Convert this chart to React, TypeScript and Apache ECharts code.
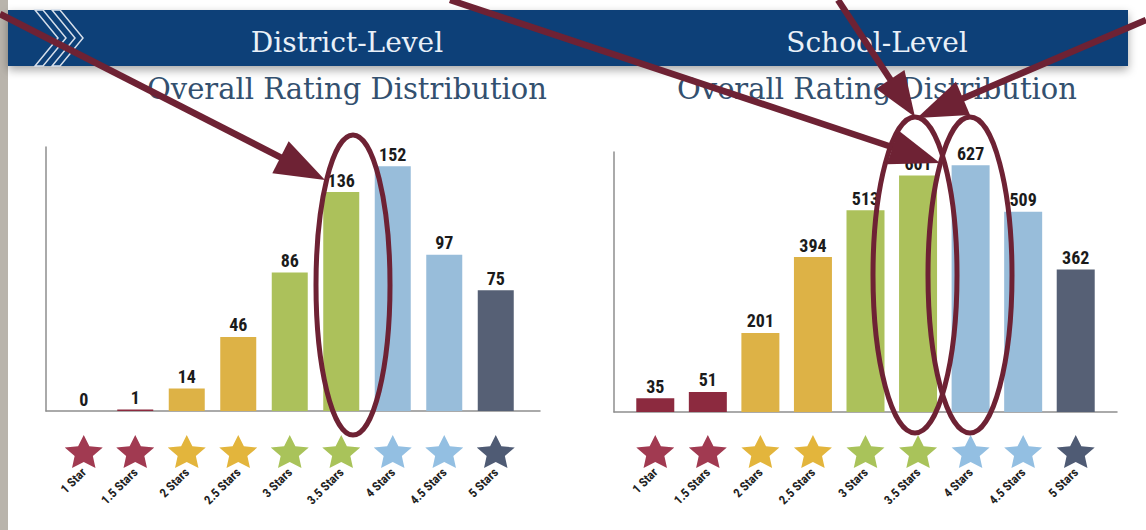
import React, { useEffect, useRef } from "react";
import * as echarts from "echarts";

const categories = ["1 Star", "1.5 Stars", "2 Stars", "2.5 Stars", "3 Stars", "3.5 Stars", "4 Stars", "4.5 Stars", "5 Stars"];
const districtCounts = [0, 1, 14, 46, 86, 136, 152, 97, 75];
const schoolCounts = [35, 51, 201, 394, 513, 601, 627, 509, 362];
const barColors = ["#8C2A3F", "#8C2A3F", "#DDB246", "#DDB246", "#ACC15B", "#ACC15B", "#98BDDA", "#98BDDA", "#566075"];
const starColors = ["#A13A51", "#A13A51", "#E3B53C", "#E3B53C", "#A9C35A", "#A9C35A", "#93BFE2", "#93BFE2", "#4F5B74"];
const panelTitles = ["District-Level", "School-Level"];
const subtitle = "Overall Rating Distribution";

const NARROW = "'Liberation Sans Narrow','Arial Narrow','Roboto Condensed','Liberation Sans',sans-serif";
const SERIF = "'DejaVu Serif',serif";
const STAR = "path://M50,2 L64.1,32.6 L97.6,36.6 L72.8,59.4 L79.4,92.5 L50,76 L20.6,92.5 L27.2,59.4 L2.4,36.6 L35.9,32.6 Z";
const ANNO = "#6E2234";

type Layout = { barLeft: number; barWidth: number; top: number; height: number; frameLeft: number; frameWidth: number; max: number; bw: number };

const layouts: Layout[] = [
  { barLeft: 58, barWidth: 463.5, top: 147, height: 264, frameLeft: 46, frameWidth: 494, max: 164, bw: 36 },
  { barLeft: 629, barWidth: 473, top: 152, height: 260, frameLeft: 614, frameWidth: 503, max: 661, bw: 38 },
];
const panelData = [districtCounts, schoolCounts];

function arrow(x1: number, y1: number, tx: number, ty: number, len: number, half: number) {
  const dx = tx - x1, dy = ty - y1;
  const d = Math.sqrt(dx * dx + dy * dy);
  const ux = dx / d, uy = dy / d;
  const bx = tx - ux * len, by = ty - uy * len;
  const px = -uy, py = ux;
  return [
    { type: "line", z: 100, shape: { x1, y1, x2: bx + ux * 4, y2: by + uy * 4 }, style: { stroke: ANNO, lineWidth: 6.5 } },
    {
      type: "polygon", z: 100,
      shape: { points: [[tx, ty], [bx + px * half, by + py * half], [bx - px * half, by - py * half]] },
      style: { fill: ANNO },
    },
  ];
}

export default function App() {
  const ref = useRef<HTMLDivElement>(null);
  useEffect(() => {
    if (!ref.current) return;
    const chart = echarts.init(ref.current, undefined, { renderer: "svg" });
    const grid: any[] = [];
    const xAxis: any[] = [];
    const yAxis: any[] = [];
    const series: any[] = [];
    const hidden = { show: false };
    layouts.forEach((L, p) => {
      const g = p * 3;
      grid.push({ left: L.barLeft, width: L.barWidth, top: L.top, height: L.height });
      grid.push({ left: L.frameLeft, width: L.frameWidth, top: L.top, height: L.height });
      grid.push({ left: L.barLeft, width: L.barWidth, top: 436, height: 31 });
      xAxis.push({ type: "category", gridIndex: g, data: categories, axisLine: hidden, axisTick: hidden, axisLabel: hidden });
      xAxis.push({
        type: "value", gridIndex: g + 1, min: 0, max: 1,
        axisLine: { show: true, lineStyle: { color: "#8E8E8E", width: 1.5 } },
        axisTick: hidden, axisLabel: hidden, splitLine: hidden,
      });
      xAxis.push({
        type: "category", gridIndex: g + 2, data: categories, axisLine: hidden, axisTick: hidden,
        axisLabel: { show: true, interval: 0, rotate: 45, margin: 3, fontFamily: NARROW, fontWeight: "bold", fontSize: 12.5, color: "#222" },
      });
      yAxis.push({ type: "value", gridIndex: g, min: 0, max: L.max, show: false, splitLine: hidden });
      yAxis.push({
        type: "value", gridIndex: g + 1, min: 0, max: 1,
        axisLine: { show: true, lineStyle: { color: "#8E8E8E", width: 1.5 } },
        axisTick: hidden, axisLabel: hidden, splitLine: hidden,
      });
      yAxis.push({ type: "value", gridIndex: g + 2, min: 0, max: 1, show: false, splitLine: hidden });
      series.push({
        type: "bar", xAxisIndex: g, yAxisIndex: g, barWidth: L.bw,
        data: panelData[p].map((v, i) => ({ value: v, itemStyle: { color: barColors[i] } })),
        label: { show: true, position: "top", distance: 3, fontFamily: NARROW, fontWeight: "bold", fontSize: 18, color: "#1B1B1B" },
      });
      series.push({
        type: "scatter", xAxisIndex: g + 2, yAxisIndex: g + 2, symbol: STAR, symbolSize: [38, 33],
        data: categories.map((c, i) => ({ value: 0.5, itemStyle: { color: starColors[i], opacity: 1 } })),
      });
    });

    const centers = [347, 877];
    const graphic: any[] = [
      { type: "rect", shape: { x: 0, y: 0, width: 8, height: 530 }, style: { fill: "#B9B4AC" } },
      {
        type: "rect", shape: { x: 8, y: 10, width: 1120, height: 56 },
        style: { fill: "#0F3F78", shadowColor: "rgba(0,0,0,0.35)", shadowBlur: 10, shadowOffsetY: 4 },
      },
      {
        type: "polygon", shape: { points: [[35, 10], [43, 10], [66, 38], [43, 66], [35, 66], [58, 38]] },
        style: { fill: "none", stroke: "#D5DEEA", lineWidth: 1.5 },
      },
      {
        type: "polygon", shape: { points: [[52, 10], [60, 10], [83, 38], [60, 66], [52, 66], [75, 38]] },
        style: { fill: "none", stroke: "#D5DEEA", lineWidth: 1.5 },
      },
    ];
    panelTitles.forEach((t, i) => {
      graphic.push({
        type: "text", x: centers[i], y: 42,
        style: { text: t, font: `28px ${SERIF}`, fill: "#E9F0F8", align: "center", verticalAlign: "middle" },
      });
      graphic.push({
        type: "text", x: centers[i], y: 89,
        style: { text: subtitle, font: `29px ${SERIF}`, fill: "#33506F", align: "center", verticalAlign: "middle" },
      });
    });
    const ell = (cx: number, cy: number, rx: number, ry: number) => ({
      type: "ellipse", z: 100, shape: { cx, cy, rx, ry }, style: { fill: "none", stroke: ANNO, lineWidth: 5 },
    });
    graphic.push(ell(353, 285, 37, 150), ell(915, 275, 42, 158), ell(970, 275, 42, 158));
    graphic.push(...arrow(0, 14, 325, 180, 50, 18));
    graphic.push(...arrow(450, 0, 940, 163, 50, 18));
    graphic.push(...arrow(838, 0, 915, 117, 45, 17));
    graphic.push(...arrow(1146, 20, 917, 118, 50, 18));

    chart.setOption({ animation: false, backgroundColor: "#FFFFFF", grid, xAxis, yAxis, series, graphic });
    return () => chart.dispose();
  }, []);
  return <div ref={ref} style={{ position: "fixed", left: 0, top: 0, width: 1146, height: 530 }} />;
}
